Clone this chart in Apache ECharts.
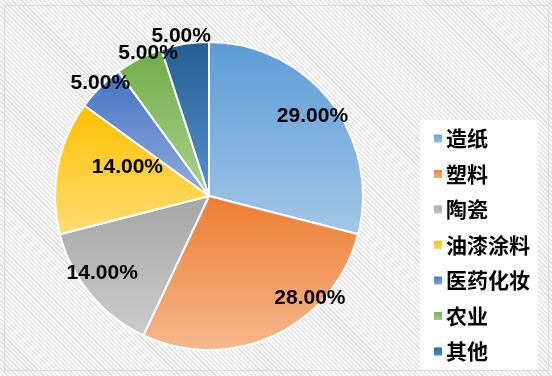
<!DOCTYPE html>
<html>
<head>
<meta charset="utf-8">
<script src="https://cdn.jsdelivr.net/npm/echarts@6/dist/echarts.min.js"></script>
<style>
    html, body { margin: 0; padding: 0; background: #fff; }
    #chart {
        width: 552px;
        height: 376px;
        background: repeating-linear-gradient(45deg, #ffffff 0px, #ffffff 1.6px, #e4e4e4 1.6px, #e4e4e4 3.2px);
    }
</style>
</head>
<body>
<div id="chart"></div>
<script>
// 行业分类
var categories = ['造纸', '塑料', '陶瓷', '油漆涂料', '医药化妆', '农业', '其他'];
// 占比(%)
var shares = [29, 28, 14, 14, 5, 5, 5];

// 渐变色：上深下浅
var topColors = ['#5b9bd5', '#ed7d31', '#a5a5a5', '#ffc000', '#4472c4', '#70ad47', '#255e91'];
var bottomColors = ['#a3c7e8', '#f5b88e', '#cccccc', '#ffdc73', '#93acdc', '#acd192', '#5592cc'];

// 标签微调(像素)，仿 Excel 的"最佳位置"
var labelNudge = {
    '造纸': [-4, 4],
    '塑料': [43, -21],
    '陶瓷': [-2, -9],
    '油漆涂料': [52, -3],
    '医药化妆': [8, 4],
    '农业': [14, 4],
    '其他': [-2, 3]
};

var labelFont = {
    fontFamily: 'Liberation Sans',
    fontWeight: 'bold',
    fontSize: 21,
    color: '#000'
};

var pieChart = function () {
    var myChart = echarts.init(document.getElementById('chart'));

    var mainData = categories.map(function (name, i) {
        return {
            name: name,
            value: shares[i],
            itemStyle: {
                color: new echarts.graphic.LinearGradient(0, 0, 0, 1, [
                    { offset: 0, color: topColors[i] },
                    { offset: 1, color: bottomColors[i] }
                ])
            }
        };
    });

    // 只用来放标签的透明环
    var ringData = function (big) {
        return categories.map(function (name, i) {
            var isBig = shares[i] >= 10;
            return {
                name: name,
                value: shares[i],
                label: { show: isBig === big }
            };
        });
    };

    var labelRing = function (radius, big) {
        return {
            type: 'pie',
            radius: radius,
            center: [209, 196],
            silent: true,
            legendHoverLink: false,
            avoidLabelOverlap: false,
            itemStyle: { color: 'rgba(0,0,0,0)', borderWidth: 0 },
            label: Object.assign({
                position: 'inside',
                formatter: function (p) {
                    return p.value.toFixed(2) + '%';
                }
            }, labelFont),
            labelLine: { show: false },
            labelLayout: function (p) {
                var n = labelNudge[categories[p.dataIndex]];
                return n ? { dx: n[0], dy: n[1] } : {};
            },
            emphasis: { disabled: true },
            data: ringData(big)
        };
    };

    var option = {
        animation: false,
        graphic: [{
            type: 'rect',
            shape: { x: 4.5, y: 5.5, width: 544, height: 365 },
            style: { fill: 'none', stroke: '#d9d9d9', lineWidth: 1 },
            z: -1
        }],
        legend: {
            orient: 'vertical',
            left: 420,
            top: 120,
            padding: [8, 8, 8, 12],
            backgroundColor: '#fff',
            icon: 'rect',
            itemWidth: 10,
            itemHeight: 10,
            itemGap: 14.5,
            selectedMode: false,
            data: categories,
            textStyle: {
                fontFamily: 'Noto Sans CJK SC',
                fontWeight: 'bold',
                fontSize: 21,
                color: '#000',
                padding: [0, 0, 0, -2]
            }
        },
        series: [
            {
                name: '行业',
                type: 'pie',
                radius: 154,
                center: [209, 196],
                startAngle: 90,
                clockwise: true,
                silent: true,
                itemStyle: {
                    borderColor: '#fff',
                    borderWidth: 2
                },
                label: { show: false },
                labelLine: { show: false },
                data: mainData
            },
            labelRing([106, 160], true),
            labelRing([138, 186], false)
        ]
    };
    myChart.setOption(option);
};

pieChart();
</script>
</body>
</html>
